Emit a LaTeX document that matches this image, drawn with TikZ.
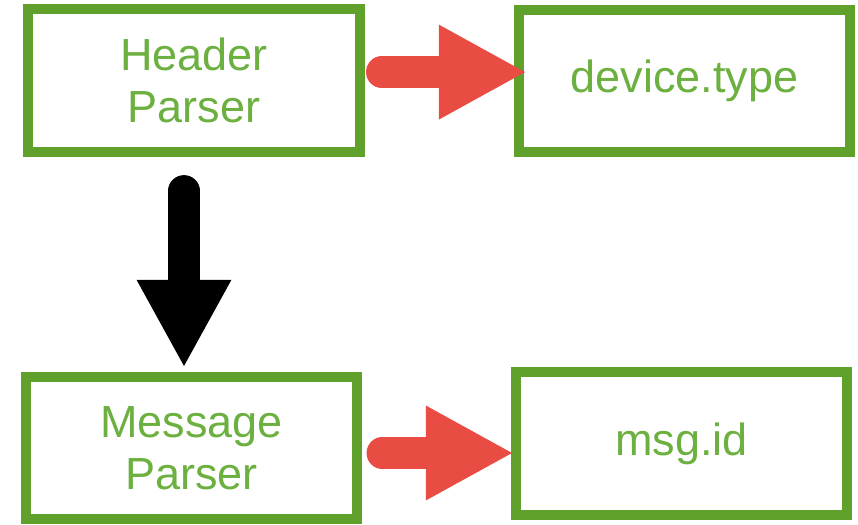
\documentclass[tikz,border=0pt]{standalone}
\usepackage{fontspec}
\setmainfont{Liberation Sans}
\usetikzlibrary{arrows.meta, shadows}
\definecolor{boxgreen}{RGB}{95, 161, 43}
\definecolor{textgreen}{RGB}{108, 176, 64}
\definecolor{arrowred}{RGB}{232, 76, 67}

\begin{document}
\begin{tikzpicture}[x=0.025cm, y=-0.025cm,
    parserbox/.style={draw=boxgreen, line width=0.25cm, fill=white,
        minimum width=8.28cm, minimum height=3.56cm, align=center,
        text=textgreen, font=\fontsize{32}{37}\selectfont,
        drop shadow={shadow xshift=1.5pt, shadow yshift=-1.5pt, opacity=0.35}},
    fatarrow/.style={line width=0.78cm, line cap=round,
        -{Triangle[length=2.2cm, width=2.2cm]}}]
    \useasboundingbox (0,0) rectangle (858,525);

    % Boxes
    \node[parserbox] (header) at (194,80.5) {Header\\Parser};
    \node[parserbox] (devtype) at (684.5,81) {device.type};
    \node[parserbox] (message) at (191.5,448) {Message\\Parser};
    \node[parserbox] (msgid) at (681.5,443.5) {msg.id};

    % Red arrows
    \draw[fatarrow, arrowred, shorten <=0.425cm, shorten >=-0.325cm]
        ([yshift=0.21cm]header.east) -- ([yshift=0.21cm]header.east -| devtype.west);
    \draw[fatarrow, arrowred, shorten <=0.5cm, shorten >=-0.075cm]
        ([yshift=-0.125cm]message.east) -- ([yshift=-0.125cm]message.east -| msgid.west);

    % Black arrow
    \draw[fatarrow, black, shorten <=0.85cm, shorten >=0.1cm]
        ([xshift=-0.25cm]header.south) -- ([xshift=-0.25cm]header.south |- message.north);
\end{tikzpicture}
\end{document}
